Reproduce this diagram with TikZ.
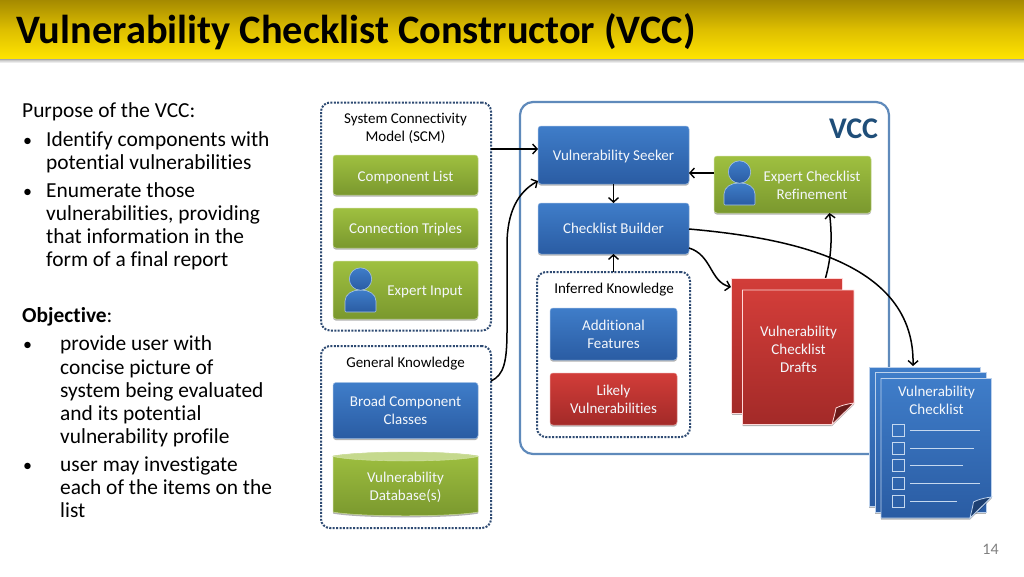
\documentclass[tikz,border=0pt]{standalone}
\usepackage{fontspec}
\setmainfont[RawFeature={-liga}]{Carlito}
\usetikzlibrary{arrows.meta,shadows,calc}
\definecolor{bluetop}{HTML}{3F7DC9}
\definecolor{bluebot}{HTML}{2A5CA3}
\definecolor{greentop}{HTML}{9FC040}
\definecolor{greenbot}{HTML}{7A982E}
\definecolor{redtop}{HTML}{D23D39}
\definecolor{redbot}{HTML}{A32A28}
\definecolor{dotc}{HTML}{2E4A72}
\definecolor{vccb}{HTML}{5F8ABB}
\definecolor{vcct}{HTML}{1F4E79}
\definecolor{txt}{HTML}{F4F7FB}
\definecolor{bandtop}{HTML}{A58A00}
\definecolor{bandmid}{HTML}{DDBE00}
\definecolor{bandbot}{HTML}{FFE400}
\tikzset{
  softshadow/.style={drop shadow={shadow xshift=0pt,shadow yshift=-1.6pt,opacity=.3,fill=black}},
  basebox/.style={rectangle,rounded corners=3pt,inner sep=0pt,outer sep=0pt,align=center,text=txt,
    font=\fontsize{15}{18}\selectfont,softshadow},
  bluebox/.style={basebox,top color=bluetop,bottom color=bluebot,draw=bluetop!55!white,line width=.5pt},
  greenbox/.style={basebox,top color=greentop,bottom color=greenbot,draw=greentop!55!white,line width=.5pt},
  redbox/.style={basebox,top color=redtop,bottom color=redbot,draw=redtop!55!white,line width=.5pt},
  group/.style={rectangle,rounded corners=9pt,draw=dotc,line width=2pt,dash pattern=on 2pt off 1.4pt,inner sep=0pt,outer sep=0pt},
  grouplabel/.style={inner sep=0pt,align=center,text=black,font=\fontsize{15}{18}\selectfont},
  boxlabel/.style={inner sep=0pt,align=center,text=txt,font=\fontsize{15}{18}\selectfont},
  arr/.style={draw=black,line width=1.5pt,-{Straight Barb[length=4.5pt,width=10pt,line width=1.4pt]}},
  body/.style={inner sep=0pt,anchor=base west,text=black,font=\fontsize{21.4}{24}\selectfont},
  bull/.style={inner sep=0pt,anchor=base west,text=black,font=\fontsize{18}{24}\selectfont},
  sheetred/.style={top color=redtop,bottom color=redbot,draw=red!15!white,line width=.8pt},
  sheetblue/.style={top color=bluetop,bottom color=bluebot,draw=bluetop!35!white,line width=.8pt},
  check/.style={draw=bluetop!30!white,line width=.9pt},
  personfill/.style={top color=bluetop,bottom color=bluebot,draw=bluetop!45!white,line width=.6pt},
}
% person icon: horizontal centre, top of head
\newcommand{\personicon}[2]{%
  \path[personfill,rounded corners=1pt] (#1-15.5,#2+44) -- (#1-15.5,#2+34)
    .. controls (#1-15.5,#2+26) and (#1-8,#2+22) .. (#1,#2+22)
    .. controls (#1+8,#2+22) and (#1+15.5,#2+26) .. (#1+15.5,#2+34) -- (#1+15.5,#2+44) -- cycle;
  \path[personfill] (#1,#2+11) circle (11.2pt);
}
\newcommand{\lowtext}[2]{\raisebox{-#1}[0pt][0pt]{#2}}
\begin{document}
\begin{tikzpicture}[x=1pt,y=-1pt]
\useasboundingbox (0,0) rectangle (1024,576);
\fill[white] (0,0) rectangle (1024,576);
% title band
\fill[black!35] (0,58) rectangle (1024,60.5);
\path[top color=black!22,bottom color=white] (0,60) rectangle (1024,63);
\path[top color=bandtop,bottom color=bandbot,middle color=bandmid,draw=none] (0,0) rectangle (1024,58.5);
\node[inner sep=0pt,anchor=base west,font=\fontsize{40.4}{44}\selectfont\bfseries] (title) at (16,43) {Vulnerability Checklist Constructor (VCC)};
% left text
\node[body] (p0) at (22,117) {Purpose of the VCC:};
\node[bull] (b1) at (23,146) {•};
\node[body] (p1) at (46,146) {Identify components with};
\node[body] (p2) at (46,169) {potential vulnerabilities};
\node[bull] (b2) at (23,197) {•};
\node[body] (p3) at (46,197) {Enumerate those};
\node[body] (p4) at (46,220) {vulnerabilities, providing};
\node[body] (p5) at (46,243) {that information in the};
\node[body] (p6) at (46,266) {form of a final report};
\node[body] (o0) at (22,322) {\textbf{Objective}:};
\node[bull] (b3) at (23,350) {•};
\node[body] (o1) at (60,350) {provide user with};
\node[body] (o2) at (60,374) {concise picture of};
\node[body] (o3) at (60,397) {system being evaluated};
\node[body] (o4) at (60,420) {and its potential};
\node[body] (o5) at (60,443) {vulnerability profile};
\node[bull] (b4) at (23,471) {•};
\node[body] (o6) at (60,471) {user may investigate};
\node[body] (o7) at (60,494) {each of the items on the};
\node[body] (o8) at (60,517) {list};
% VCC frame
\node[rectangle,rounded corners=13pt,draw=vccb,fill=white,line width=2.2pt,inner sep=0pt,outer sep=0pt,minimum width=369pt,minimum height=352pt] (vcc) at (704.5,278) {};
\node[inner sep=0pt,text=vcct,font=\fontsize{30}{32}\selectfont\bfseries] (vcclabel) at (853.5,129) {VCC};
% SCM group
\node[group,minimum width=170pt,minimum height=228pt] (scm) at (406,216.5) {};
\node[grouplabel] (scml) at (405.5,128) {System Connectivity\\Model (SCM)};
\node[greenbox,minimum width=145pt,minimum height=40pt] (comp) at (405.5,175) {\lowtext{6pt}{Component List}};
\node[greenbox,minimum width=145pt,minimum height=40pt] (conn) at (405.5,228) {\lowtext{5.3pt}{Connection Triples}};
\node[greenbox,minimum width=145pt,minimum height=58pt] (input) at (405.5,290) {};
\personicon{360.5}{268}
\node[boxlabel] (inputl) at (425,291.5) {Expert Input};
% General knowledge group
\node[group,minimum width=170pt,minimum height=182pt] (gk) at (406,437) {};
\node[grouplabel] (gkl) at (405.5,363.5) {General Knowledge};
\node[bluebox,minimum width=145pt,minimum height=56pt] (broad) at (405.5,410.5) {Broad Component\\Classes};
\path[top color=greentop,bottom color=greenbot,draw=greentop!55!white,line width=.5pt,softshadow]
  (333,456) -- (333,512) .. controls (360,517) and (451,517) .. (478,512) -- (478,456)
  .. controls (451,451) and (360,451) .. (333,456) -- cycle;
\fill[greentop!60!white,draw=greentop!45!white,line width=.4pt] (333,456.5) .. controls (360,450.5) and (451,450.5) .. (478,456.5)
  .. controls (451,462.5) and (360,462.5) .. (333,456.5) -- cycle;
\node[boxlabel] (db) at (405.5,487) {Vulnerability\\Database(s)};
% VCC content
\node[bluebox,minimum width=151pt,minimum height=58pt] (seeker) at (613.5,155) {\lowtext{5.3pt}{Vulnerability Seeker}};
\node[bluebox,minimum width=151pt,minimum height=51pt] (builder) at (613.5,228.5) {\lowtext{5pt}{Checklist Builder}};
\node[greenbox,minimum width=157pt,minimum height=57pt] (refine) at (792.5,184.5) {};
\personicon{739.5}{161}
\node[boxlabel] (refinel) at (812,185) {Expert Checklist\\Refinement};
\node[group,minimum width=153pt,minimum height=165pt] (inf) at (613.5,354.5) {};
\node[grouplabel] (infl) at (614,289.5) {Inferred Knowledge};
\node[bluebox,minimum width=127pt,minimum height=52pt] (feat) at (613.5,334) {Additional\\Features};
\node[redbox,minimum width=127pt,minimum height=52pt] (likely) at (613.5,399) {Likely\\Vulnerabilities};
% connectors
\draw[arr] ([yshift=67.5pt]scm.east) -- ([yshift=6pt]seeker.west);
\draw[arr] ([yshift=56pt]gk.east) .. controls ++(13,-6) and (507,362) .. (507,330)
  -- (507,245) .. controls (507,212) and (518,192) .. ([yshift=-26pt]seeker.west);
\draw[arr] (seeker.south) -- (builder.north);
\draw[arr] ([yshift=11.5pt]refine.west) -- ([yshift=-18pt]seeker.east);
\draw[arr] (inf.north) -- (builder.south);
\draw[arr] ([yshift=-.5pt]builder.east) .. controls (790,238) and (915,262) .. (913,366);
\draw[arr] ([yshift=-19.5pt]builder.east) .. controls (712,255) and (710,282) .. (731,287);
\draw[arr] (825.5,278) .. controls (832,255) and (832,235) .. ([xshift=37pt]refine.south);
% drafts
\path[sheetred,softshadow] (731.5,278.5) rectangle (842,413);
\path[sheetred,softshadow] (742.5,290) -- (854,290) -- (854,403) -- (832,424.5) -- (742.5,424.5) -- cycle;
\path[fill=redbot!65!black,draw=red!15!white,line width=.8pt] (854,403) .. controls (846,404) and (840,406) .. (836,408) .. controls (835,414) and (833,420) .. (832,424.5) -- cycle;
\node[boxlabel] (draftsl) at (798.5,349) {Vulnerability\\Checklist\\Drafts};
% final checklist
\path[sheetblue,softshadow] (869,367) rectangle (980,506);
\path[sheetblue,softshadow] (875,372.5) rectangle (986,512);
\path[sheetblue,softshadow] (881,378.5) -- (991.5,378.5) -- (991.5,497) -- (970,518) -- (881,518) -- cycle;
\path[fill=bluebot!70!black,draw=bluetop!35!white,line width=.8pt] (991.5,497) .. controls (983,498) and (977,500) .. (973.5,502) .. controls (972.5,508) and (971,513) .. (970,518) -- cycle;
\node[boxlabel] (listl) at (936.5,400) {Vulnerability\\Checklist};
\foreach \yy/\xe in {424/980,442/974,459.5/963,477/980,495/957}{
  \draw[check] (892,\yy) rectangle (904,\yy+12);
  \draw[check] (910,\yy+6) -- (\xe,\yy+6);
}
% page number
\node[inner sep=0pt,text=black!50,font=\fontsize{16}{18}\selectfont] (page) at (990.5,549) {14};
\end{tikzpicture}
\end{document}
